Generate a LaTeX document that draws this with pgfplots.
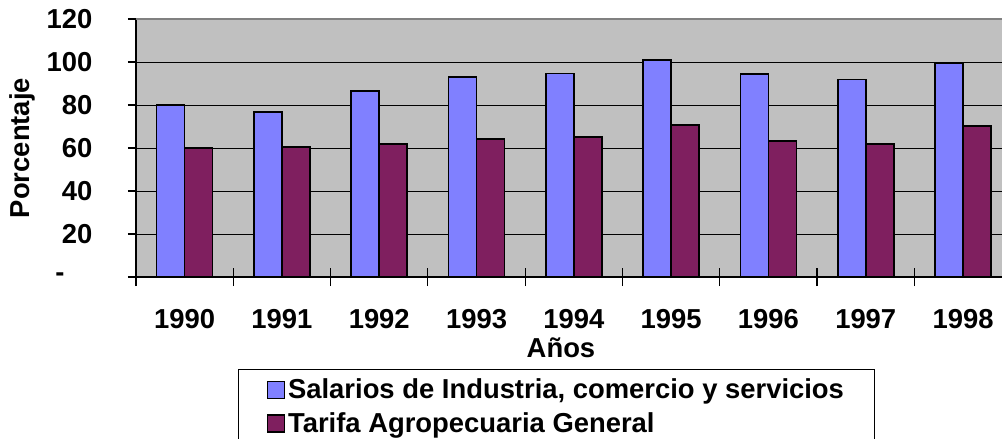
\documentclass[border=0pt]{standalone}
\usepackage{pgfplots}
\pgfplotsset{compat=1.18}
\usepackage{fontspec}
\setmainfont{Liberation Sans}
\definecolor{serA}{HTML}{8080FF}
\definecolor{serB}{HTML}{7F1F5F}
\definecolor{plotbg}{HTML}{C0C0C0}
\begin{document}
\begin{tikzpicture}[font=\fontsize{13.7}{16.4}\selectfont\bfseries]
\path[use as bounding box] (-68pt,-81pt) rectangle (433pt,138.5pt);
\clip (-68pt,-81pt) rectangle (433pt,138.5pt);
\begin{axis}[
  at={(0pt,0pt)}, anchor=south west,
  scale only axis, width=437.85pt, height=129pt,
  axis lines*=left, axis line style={black, line width=0.6pt},
  axis background/.style={fill=plotbg},
  xmin=-0.5, xmax=8.5, ymin=0, ymax=120,
  ybar=0pt, bar width=14pt,
  xtick={-0.5,0.5,...,8.5}, x tick label as interval,
  xticklabels={1990,1991,1992,1993,1994,1995,1996,1997,1998},
  xtick align=center,
  x tick style={black, line width=0.6pt, /pgfplots/major tick length=9pt},
  ytick={0,20,...,100}, yticklabels={\makebox[18.5pt][l]{-},20,40,60,80,100},
  extra y ticks={120}, extra y tick labels={120},
  extra y tick style={grid style={gray, line width=0.8pt}},
  ytick align=outside,
  y tick style={black, line width=0.6pt, /pgfplots/major tick length=4pt},
  ymajorgrids, grid style={black, line width=0.5pt},
  every tick label/.append style={font=\fontsize{13.7}{16.4}\selectfont\bfseries},
  yticklabel style={xshift=-14pt},
  xticklabel style={yshift=-10.5pt},
  xlabel={Años}, ylabel={Porcentaje},
  every axis x label/.style={at={(axis description cs:0.4853,-0.2752)}, anchor=center},
  every axis y label/.style={at={(axis description cs:-0.1302,0.5)}, anchor=center, rotate=90},
  legend style={at={(axis description cs:0.1165,-0.3566)}, anchor=north west,
    draw=black, line width=0.5pt, inner xsep=14pt, inner ysep=3pt,
    row sep=2.5pt, nodes={inner sep=1.5pt}},
  legend cell align=left,
  legend image code/.code={\draw[#1, line width=0.8pt] (0pt,-4.25pt) rectangle (8.5pt,4.25pt);},
]
\addplot[fill=serA, draw=black, line width=0.85pt] coordinates {
  (0,80.0) (1,76.6) (2,86.4) (3,93.0) (4,94.6) (5,100.9) (6,94.3) (7,91.9) (8,99.5)};
\addplot[fill=serB, draw=black, line width=0.85pt] coordinates {
  (0,60.0) (1,60.5) (2,61.9) (3,64.3) (4,65.0) (5,70.7) (6,63.1) (7,62.0) (8,70.1)};
\legend{{Salarios de Industria, comercio y servicios}, {Tarifa Agropecuaria General}}
\end{axis}
\end{tikzpicture}
\end{document}
